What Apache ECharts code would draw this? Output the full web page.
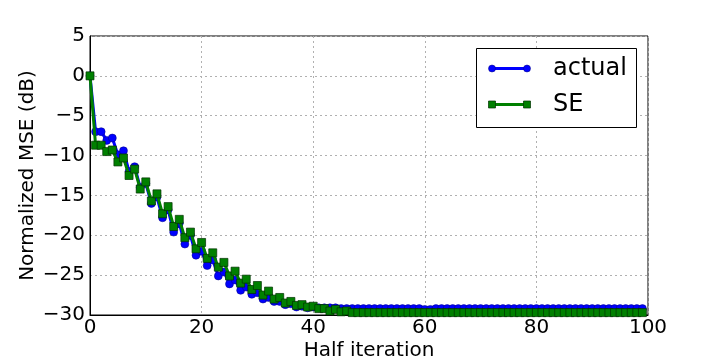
<!DOCTYPE html>
<html>
<head>
<meta charset="utf-8">
<script src="https://cdn.jsdelivr.net/npm/echarts@6/dist/echarts.min.js"></script>
<style>
  html, body { margin: 0; padding: 0; background: #fff; }
  #main { width: 720px; height: 360px; }
</style>
</head>
<body>
<div id="main"></div>
<script>
// x = half iteration index 0..99
const iterations = [];
for (let i = 0; i < 100; i++) iterations.push(i);

const actualMse = [
  0, -7.0, -7.0, -8.1, -7.8, -9.9, -9.4, -12.0, -11.4, -14.0,
  -13.5, -16.0, -15.2, -17.8, -16.8, -19.6, -18.5, -21.1, -20.0, -22.5,
  -22.0, -23.8, -23.1, -25.1, -24.6, -26.1, -25.6, -26.9, -26.5, -27.4,
  -27.2, -28.0, -27.8, -28.3, -28.3, -28.7, -28.6, -29.0, -28.9, -29.1,
  -29.0, -29.1, -29.1, -29.1, -29.1, -29.2, -29.2, -29.2, -29.2, -29.2,
  -29.2, -29.2, -29.2, -29.2, -29.2, -29.2, -29.2, -29.2, -29.2, -29.2,
  -29.3, -29.3, -29.2, -29.2, -29.2, -29.2, -29.2, -29.2, -29.2, -29.2,
  -29.2, -29.2, -29.2, -29.2, -29.2, -29.2, -29.2, -29.2, -29.2, -29.2,
  -29.2, -29.2, -29.2, -29.2, -29.2, -29.2, -29.2, -29.2, -29.2, -29.2,
  -29.2, -29.2, -29.2, -29.2, -29.2, -29.2, -29.2, -29.2, -29.2, -29.2
];

const seMse = [
  0, -8.7, -8.7, -9.5, -9.3, -10.8, -10.3, -12.5, -11.7, -14.2,
  -13.3, -15.7, -14.8, -17.3, -16.4, -18.9, -18.0, -20.3, -19.6, -21.7,
  -20.9, -22.9, -22.2, -24.0, -23.4, -25.1, -24.5, -26.0, -25.5, -26.8,
  -26.3, -27.5, -27.0, -28.0, -27.8, -28.5, -28.3, -28.8, -28.7, -29.0,
  -28.9, -29.2, -29.2, -29.5, -29.3, -29.6, -29.5, -29.7, -29.7, -29.7,
  -29.7, -29.7, -29.7, -29.7, -29.7, -29.7, -29.7, -29.7, -29.7, -29.7,
  -29.7, -29.7, -29.7, -29.7, -29.7, -29.7, -29.7, -29.7, -29.7, -29.7,
  -29.7, -29.7, -29.7, -29.7, -29.7, -29.7, -29.7, -29.7, -29.7, -29.7,
  -29.7, -29.7, -29.7, -29.7, -29.7, -29.7, -29.7, -29.7, -29.7, -29.7,
  -29.7, -29.7, -29.7, -29.7, -29.7, -29.7, -29.7, -29.7, -29.7, -29.7
];

const seriesNames = ['actual', 'SE'];
const FONT = 'DejaVu Sans';

function pairs(ys) {
  return iterations.map((x, i) => [x, ys[i]]);
}

const chart = echarts.init(document.getElementById('main'));

const gridLine = { show: true, lineStyle: { color: '#b0b0b0', type: [2, 3], width: 1 } };

chart.setOption({
  animation: false,
  backgroundColor: '#fff',
  grid: { left: 90, right: 72, top: 36, bottom: 45, outerBoundsMode: 'none', containLabel: false,
    show: true, borderColor: '#000', borderWidth: 1, backgroundColor: 'transparent' },
  xAxis: {
    type: 'value', min: 0, max: 100, interval: 20,
    name: 'Half iteration', nameLocation: 'middle', nameGap: 26, nameMoveOverlap: false,
    nameTextStyle: { fontFamily: FONT, fontSize: 20, color: '#000' },
    axisLine: { show: true, onZero: false, lineStyle: { color: '#000' } },
    axisTick: { show: false },
    axisLabel: { fontFamily: FONT, fontSize: 20, color: '#000', margin: 3 },
    splitLine: gridLine
  },
  yAxis: {
    type: 'value', min: -30, max: 5, interval: 5,
    name: 'Normalized MSE (dB)', nameLocation: 'middle', nameGap: 52, nameMoveOverlap: false,
    nameTextStyle: { fontFamily: FONT, fontSize: 20, color: '#000' },
    axisLine: { show: true, onZero: false, lineStyle: { color: '#000' } },
    axisTick: { show: false },
    axisLabel: { fontFamily: FONT, fontSize: 20, color: '#000', margin: 5,
      formatter: v => v < 0 ? '\u2212' + Math.abs(v) : String(v) },
    splitLine: gridLine
  },
  series: [
    {
      name: seriesNames[0], type: 'line', data: pairs(actualMse),
      symbol: 'circle', symbolSize: 8, showAllSymbol: true,
      lineStyle: { color: '#0000ff', width: 3 },
      itemStyle: { color: '#0000ff', borderColor: '#000080', borderWidth: 0.5 },
      z: 2
    },
    {
      name: seriesNames[1], type: 'line', data: pairs(seMse),
      symbol: 'rect', symbolSize: 8, showAllSymbol: true,
      lineStyle: { color: '#008000', width: 3 },
      itemStyle: { color: '#008000', borderColor: '#003000', borderWidth: 0.7 },
      z: 3
    }
  ],
  graphic: [
    { type: 'rect', shape: { x: 476.5, y: 48.5, width: 160, height: 79 },
      style: { fill: '#fff', stroke: '#000', lineWidth: 1 }, z: 100 },
    { type: 'line', shape: { x1: 492, y1: 68.5, x2: 527, y2: 68.5 },
      style: { stroke: '#0000ff', lineWidth: 3 }, z: 101 },
    { type: 'circle', shape: { cx: 492, cy: 68.5, r: 3.5 }, style: { fill: '#0000ff', stroke: '#000080', lineWidth: 0.5 }, z: 102 },
    { type: 'circle', shape: { cx: 527, cy: 68.5, r: 3.5 }, style: { fill: '#0000ff', stroke: '#000080', lineWidth: 0.5 }, z: 102 },
    { type: 'text', x: 553, y: 68.5, style: { text: seriesNames[0], font: '24px "DejaVu Sans"', fill: '#000', textVerticalAlign: 'middle' }, z: 102 },
    { type: 'line', shape: { x1: 492, y1: 104.5, x2: 527, y2: 104.5 },
      style: { stroke: '#008000', lineWidth: 3 }, z: 101 },
    { type: 'rect', shape: { x: 488.5, y: 101, width: 7, height: 7 }, style: { fill: '#008000', stroke: '#003000', lineWidth: 0.7 }, z: 102 },
    { type: 'rect', shape: { x: 523.5, y: 101, width: 7, height: 7 }, style: { fill: '#008000', stroke: '#003000', lineWidth: 0.7 }, z: 102 },
    { type: 'text', x: 553, y: 104.5, style: { text: seriesNames[1], font: '24px "DejaVu Sans"', fill: '#000', textVerticalAlign: 'middle' }, z: 102 }
  ]
});
</script>
</body>
</html>
